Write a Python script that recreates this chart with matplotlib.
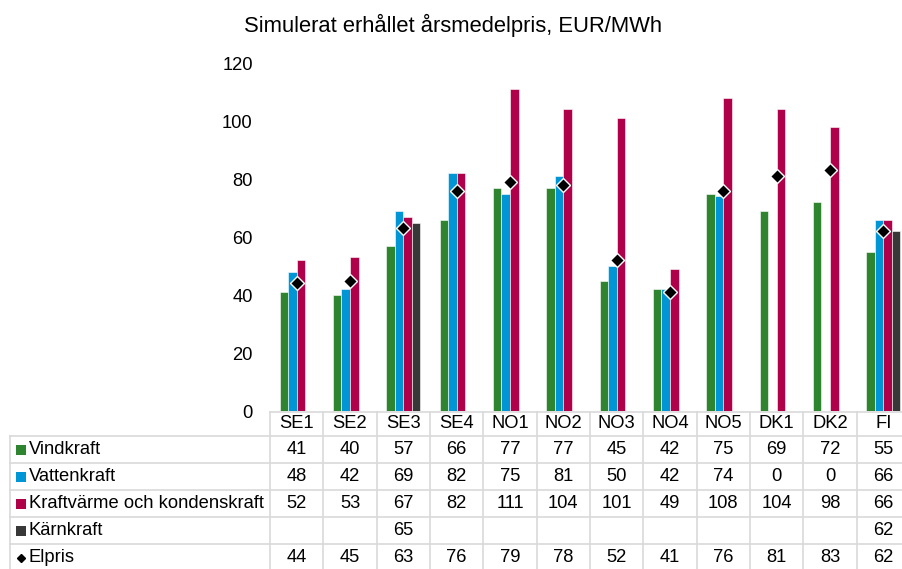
import numpy as np
import matplotlib
matplotlib.use("Agg")
import matplotlib.pyplot as plt
from matplotlib.lines import Line2D
from matplotlib.patches import Rectangle
from matplotlib.transforms import blended_transform_factory

plt.rcParams["font.family"] = ["Liberation Sans", "DejaVu Sans"]

areas = ["SE1", "SE2", "SE3", "SE4", "NO1", "NO2", "NO3", "NO4", "NO5", "DK1", "DK2", "FI"]
vindkraft = [41, 40, 57, 66, 77, 77, 45, 42, 75, 69, 72, 55]
vattenkraft = [48, 42, 69, 82, 75, 81, 50, 42, 74, 0, 0, 66]
kraftvarme = [52, 53, 67, 82, 111, 104, 101, 49, 108, 104, 98, 66]
karnkraft = [None, None, 65, None, None, None, None, None, None, None, None, 62]
elpris = [44, 45, 63, 76, 79, 78, 52, 41, 76, 81, 83, 62]

series = [
    ("Vindkraft", vindkraft, "#2E842F"),
    ("Vattenkraft", vattenkraft, "#0096D6"),
    ("Kraftvärme och kondenskraft", kraftvarme, "#B0004A"),
    ("Kärnkraft", karnkraft, "#383838"),
]

FS = 13.2
W, H = 902, 569
fig = plt.figure(figsize=(W / 100, H / 100), dpi=100)


def fx(px):
    return px / W


def fy(py):
    return 1 - py / H


ax_left, ax_right, ax_top, ax_bot = 270, 910, 63, 411
ax = fig.add_axes([fx(ax_left), fy(ax_bot), fx(ax_right - ax_left), (ax_bot - ax_top) / H])

x = np.arange(len(areas))
bw = 0.16
for i, (name, vals, color) in enumerate(series):
    v = np.array([np.nan if val is None else val for val in vals], dtype=float)
    ax.bar(x + (i - 1.5) * bw, v, width=bw, color=color, edgecolor="white", linewidth=0.4)

ax.plot(x, elpris, linestyle="none", marker="D", markersize=7, color="black",
        markeredgecolor="white", markeredgewidth=1.0, zorder=5)

ax.set_xlim(-0.5, len(areas) - 0.5)
ax.set_ylim(0, 120)
ax.set_yticks(range(0, 121, 20))
ax.tick_params(axis="y", length=0, pad=12.5, labelsize=FS)
ax.set_xticks([])
for s in ax.spines.values():
    s.set_visible(False)

fig.text(fx(453), fy(25), "Simulerat erhållet årsmedelpris, EUR/MWh", ha="center", va="center", fontsize=15.8)

# data table below the axes
tr = blended_transform_factory(ax.transData, fig.transFigure)
grid_c = "#D9D9D9"
row_edges = [412, 436, 463, 490, 517, 544, 571]
for k in range(len(areas) + 1):
    ax.add_line(Line2D([k - 0.5, k - 0.5], [fy(row_edges[0]), fy(row_edges[-1])],
                       transform=tr, color=grid_c, lw=1.2, clip_on=False))
fig.add_artist(Line2D([fx(270), fx(910)], [fy(412)] * 2, color=grid_c, lw=1.2))
for ry in row_edges[1:]:
    fig.add_artist(Line2D([fx(10), fx(910)], [fy(ry)] * 2, color=grid_c, lw=1.2))
fig.add_artist(Line2D([fx(10), fx(10)], [fy(436), fy(571)], color=grid_c, lw=1.2))

for j, a in enumerate(areas):
    ax.text(j, fy(424), a, transform=tr, ha="center", va="center", fontsize=FS, clip_on=False)

rows = [(name, vals, color) for name, vals, color in series] + [("Elpris", elpris, "black")]
for r, (name, vals, color) in enumerate(rows):
    cy = (row_edges[r + 1] + row_edges[r + 2]) / 2
    if name == "Elpris":
        fig.add_artist(Line2D([fx(20.5)], [fy(cy)], marker="D", markersize=4.5, color="black", linestyle="none"))
    else:
        fig.add_artist(Rectangle((fx(16), fy(cy + 5)), 10 / W, 10 / H, facecolor=color, edgecolor="none",
                                 transform=fig.transFigure))
    fig.text(fx(29), fy(cy), name, ha="left", va="center", fontsize=FS)
    for j, v in enumerate(vals):
        if v is None:
            continue
        ax.text(j, fy(cy), f"{v}", transform=tr, ha="center", va="center", fontsize=FS, clip_on=False)

fig.savefig("out.png", dpi=100)
